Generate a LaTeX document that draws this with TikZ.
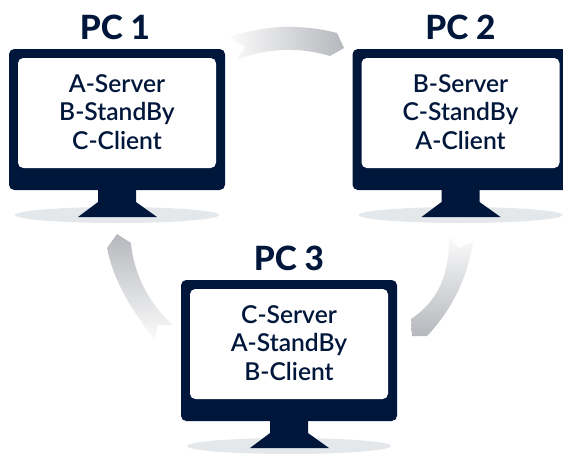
\documentclass[tikz,border=0pt]{standalone}
\usepackage{xcolor}
\usepackage{tikz}
\usepackage{fontspec}
\setmainfont{Lato}
\newfontfamily\screenfont{Lato Semibold}
\newfontfamily\titlefont{Lato Heavy}
\usetikzlibrary{calc}
\definecolor{ppnavy}{rgb}{0.,0.09,0.23}
\definecolor{ppshadow}{rgb}{0.9,0.91,0.92}
\definecolor{pplight}{rgb}{0.985,0.985,0.985}
\definecolor{ppdark}{rgb}{0.71,0.72,0.74}
\tikzstyle{every node}=[color=ppnavy]
\tikzstyle{pctitle}=[font=\fontsize{19}{19}\titlefont]
\tikzstyle{pctext}=[font=\fontsize{14}{16.3}\screenfont,align=center]

\begin{document}
\begin{tikzpicture}[line cap=round,line join=round,x=0.02cm,y=-0.02cm]
                    \clip(0.,0.) rectangle (563.,453.);
                    % arrows
                    \shade [left color=pplight,right color=ppdark] (229,37) .. controls (265,25) and (301,23.7) .. (337,33) -- (344,48) -- (330,56) .. controls (298.7,46.7) and (267.3,48) .. (236,60) -- (245,47) -- cycle;
                    \shade [top color=pplight,bottom color=ppdark] (473,242) .. controls (467,278.7) and (451.7,310) .. (427,336) -- (412,336) -- (411,319) .. controls (437,301.5) and (449.7,276.3) .. (449,236) -- (458,248) -- cycle;
                    \shade [top color=ppdark,bottom color=pplight] (117,234) -- (107,248) .. controls (112.3,276) and (128.3,306.7) .. (155,340) -- (158,325) -- (173,325) .. controls (147,303) and (133,269.3) .. (131,243) -- cycle;
                    % PC 1
                    \begin{scope}[shift={(0,0)}]
                    \fill [color=ppshadow] (117,215) ellipse (102 and 8);
                    \fill [color=ppnavy] (98,188) -- (136,188) -- (136,202) -- (157,217) -- (78,217) -- (98,202) -- cycle;
                    \fill [color=ppnavy,rounded corners=3] (9,49) rectangle (225,190);
                    \fill [color=white,rounded corners=3] (18,58) rectangle (216,168);
                    \node (pcone) at (115,27) [pctitle] {PC 1};
                    \node (pconetext) at (117,112) [pctext] {A-Server\\B-StandBy\\C-Client};
                    \end{scope}
                    % PC 2
                    \begin{scope}[shift={(343.5,0)}]
                    \fill [color=ppshadow] (117,215) ellipse (102 and 8);
                    \fill [color=ppnavy] (98,188) -- (136,188) -- (136,202) -- (157,217) -- (78,217) -- (98,202) -- cycle;
                    \fill [color=ppnavy,rounded corners=3] (9,49) rectangle (225,190);
                    \fill [color=white,rounded corners=3] (18,58) rectangle (216,168);
                    \node (pctwo) at (117,27) [pctitle] {PC 2};
                    \node (pctwotext) at (117,112) [pctext] {B-Server\\C-StandBy\\A-Client};
                    \end{scope}
                    % PC 3
                    \begin{scope}[shift={(172,231)}]
                    \fill [color=ppshadow] (117,215) ellipse (102 and 8);
                    \fill [color=ppnavy] (98,188) -- (136,188) -- (136,202) -- (157,217) -- (78,217) -- (98,202) -- cycle;
                    \fill [color=ppnavy,rounded corners=3] (9,49) rectangle (225,190);
                    \fill [color=white,rounded corners=3] (18,58) rectangle (216,168);
                    \node (pcthree) at (117,27) [pctitle] {PC 3};
                    \node (pcthreetext) at (117,112) [pctext] {C-Server\\A-StandBy\\B-Client};
                    \end{scope}
                    \end{tikzpicture}
\end{document}
